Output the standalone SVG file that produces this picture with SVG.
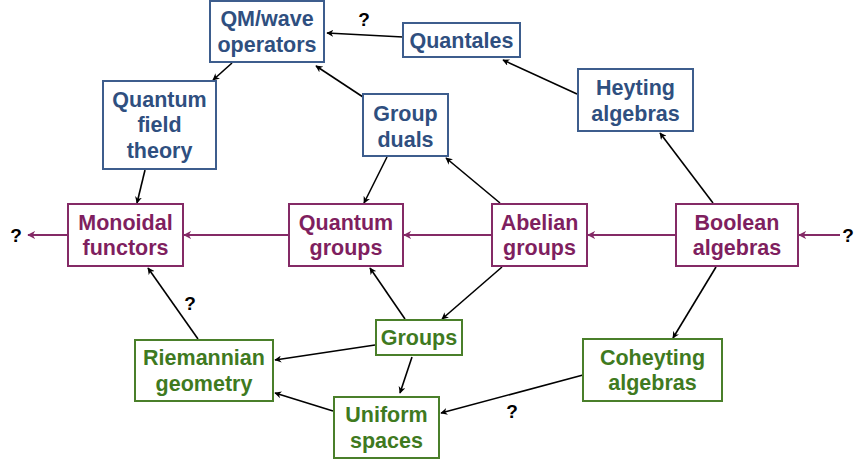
<svg xmlns="http://www.w3.org/2000/svg" width="854" height="464" viewBox="0 0 854 464">
<defs>
<style>
text{font-family:"Liberation Sans",Arial,sans-serif;font-weight:bold;font-size:21.5px;text-anchor:middle}
.b rect{fill:#fff;stroke:#3d5d8d;stroke-width:2}
.b text{fill:#2f4f7f}
.p rect{fill:#fff;stroke:#842a66;stroke-width:2}
.p text{fill:#7f1f5f}
.g rect{fill:#fff;stroke:#4a7f2a;stroke-width:2}
.g text{fill:#3f7a1f}
.k{stroke:#000;stroke-width:1.6;fill:none;marker-end:url(#ak)}
.m{stroke:#842a66;stroke-width:1.8;fill:none;marker-end:url(#am)}
.q{fill:#000;font-size:19px}
</style>
<marker id="ak" viewBox="0 0 10 10" refX="9" refY="5" markerWidth="7" markerHeight="7" markerUnits="userSpaceOnUse" orient="auto"><path d="M0,0 L10,5 L0,10 L3,5 z" fill="#000"/></marker>
<marker id="am" viewBox="0 0 10 10" refX="9" refY="5" markerWidth="8" markerHeight="8" markerUnits="userSpaceOnUse" orient="auto"><path d="M0,0 L10,5 L0,10 L3,5 z" fill="#842a66"/></marker>
</defs>
<rect width="854" height="464" fill="#fff"/>
<g id="connectors">
<line class="k" x1="403" y1="37" x2="327" y2="33"/>
<line class="k" x1="577" y1="94" x2="503" y2="60"/>
<line class="k" x1="363" y1="97" x2="316" y2="66"/>
<line class="k" x1="232" y1="63" x2="213" y2="80"/>
<line class="k" x1="145" y1="170" x2="137" y2="203"/>
<line class="k" x1="387" y1="157" x2="364" y2="203"/>
<line class="k" x1="500" y1="203" x2="446" y2="158"/>
<line class="k" x1="713" y1="203" x2="660" y2="133"/>
<line class="k" x1="716" y1="267" x2="673" y2="338"/>
<line class="k" x1="502" y1="267" x2="442" y2="319"/>
<line class="k" x1="405" y1="319" x2="370" y2="268"/>
<line class="k" x1="198" y1="339" x2="148" y2="268"/>
<line class="k" x1="375" y1="345" x2="275" y2="360"/>
<line class="k" x1="412" y1="357" x2="400" y2="393"/>
<line class="k" x1="333" y1="411" x2="275" y2="393"/>
<line class="k" x1="583" y1="375" x2="441" y2="413"/>
<line class="m" x1="68" y1="235" x2="28" y2="235"/>
<line class="m" x1="289" y1="235" x2="184" y2="235"/>
<line class="m" x1="492" y1="235" x2="404" y2="235"/>
<line class="m" x1="676" y1="235" x2="588" y2="235"/>
<line class="m" x1="840" y1="235" x2="799" y2="235"/>
<text class="q" x="364" y="26">?</text>
<text class="q" x="16" y="242">?</text>
<text class="q" x="848" y="242">?</text>
<text class="q" x="190" y="310">?</text>
<text class="q" x="512" y="418">?</text>
</g>
<g id="qm" class="b"><rect x="210" y="1" width="114" height="61"/><text x="267" y="26">QM/wave</text><text x="267" y="52">operators</text></g>
<g id="quantales" class="b"><rect x="403" y="23" width="117" height="34"/><text x="461.5" y="48">Quantales</text></g>
<g id="qft" class="b"><rect x="103" y="81" width="113" height="88"/><text x="159.5" y="107">Quantum</text><text x="159.5" y="132">field</text><text x="159.5" y="158">theory</text></g>
<g id="groupduals" class="b"><rect x="363" y="94" width="85" height="62"/><text x="405.5" y="121">Group</text><text x="405.5" y="147">duals</text></g>
<g id="heyting" class="b"><rect x="578" y="69" width="115" height="62"/><text x="635.5" y="95">Heyting</text><text x="635.5" y="121">algebras</text></g>
<g id="monoidal" class="p"><rect x="68" y="204" width="115" height="62"/><text x="125.5" y="230">Monoidal</text><text x="125.5" y="255">functors</text></g>
<g id="quantumgroups" class="p"><rect x="289" y="204" width="114" height="62"/><text x="346" y="230">Quantum</text><text x="346" y="255">groups</text></g>
<g id="abelian" class="p"><rect x="492" y="204" width="95" height="62"/><text x="539.5" y="230">Abelian</text><text x="539.5" y="255">groups</text></g>
<g id="boolean" class="p"><rect x="676" y="204" width="122" height="62"/><text x="737" y="230">Boolean</text><text x="737" y="255">algebras</text></g>
<g id="groups" class="g"><rect x="376" y="320" width="86" height="35"/><text x="419" y="345">Groups</text></g>
<g id="riemannian" class="g"><rect x="135" y="340" width="138" height="61"/><text x="204" y="365">Riemannian</text><text x="204" y="391">geometry</text></g>
<g id="uniform" class="g"><rect x="334" y="397" width="105" height="61"/><text x="386.5" y="422">Uniform</text><text x="386.5" y="448">spaces</text></g>
<g id="coheyting" class="g"><rect x="583" y="339" width="139" height="62"/><text x="652.5" y="365">Coheyting</text><text x="652.5" y="390">algebras</text></g>
</svg>
